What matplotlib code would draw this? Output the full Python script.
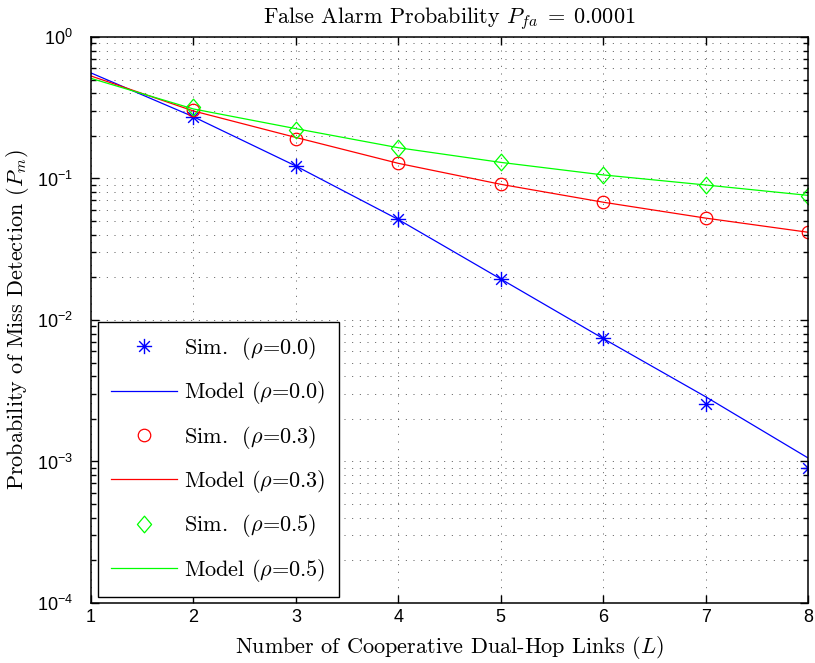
import math
import matplotlib
matplotlib.use("Agg")
from matplotlib import pyplot as plt
from matplotlib.path import Path
from matplotlib.ticker import LogLocator, NullFormatter, FuncFormatter

plt.rcParams['font.family'] = ['Liberation Sans', 'DejaVu Sans']
plt.rcParams['mathtext.fontset'] = 'cm'
plt.rcParams['axes.unicode_minus'] = True

# data
L_model = [1, 2, 3, 4, 5, 6, 7, 8]
L_sim = [2, 3, 4, 5, 6, 7, 8]

sim_00 = [0.272, 0.1225, 0.0517, 0.0195, 0.00746, 0.00255, 0.00090]
model_00 = [0.557, 0.273, 0.1225, 0.0513, 0.0195, 0.0074, 0.00287, 0.00106]

sim_03 = [0.305, 0.191, 0.128, 0.091, 0.068, 0.0523, 0.0417]
model_03 = [0.53, 0.30, 0.195, 0.128, 0.091, 0.068, 0.0525, 0.0417]

sim_05 = [0.322, 0.22, 0.165, 0.130, 0.105, 0.090, 0.075]
model_05 = [0.51, 0.31, 0.225, 0.165, 0.130, 0.106, 0.090, 0.076]

cm = 'cmr10'
fs = 16

# matlab-like markers
star = Path([(0, -1), (0, 1), (-1, 0), (1, 0),
             (-0.7, -0.7), (0.7, 0.7), (-0.7, 0.7), (0.7, -0.7)],
            [Path.MOVETO, Path.LINETO] * 4)
diamond = Path([(0, 1), (0.85, 0), (0, -1), (-0.85, 0), (0, 1)],
               [Path.MOVETO, Path.LINETO, Path.LINETO, Path.LINETO, Path.CLOSEPOLY])

fig = plt.figure(figsize=(8.15, 6.63), dpi=100)
ax = fig.add_axes([0.1117, 0.0905, 0.8797, 0.8537])

blue, red, green = '#0000ff', '#ff0000', '#00ff00'

ax.plot(L_sim, sim_00, linestyle='none', marker=star, ms=11, mew=1.0,
        color=blue, label=r'Sim.  ($\rho$=0.0)')
ax.plot(L_model, model_00, color=blue, lw=0.9, label=r'Model ($\rho$=0.0)')
ax.plot(L_sim, sim_03, linestyle='none', marker='o', ms=9, mew=0.9,
        mfc='none', color=red, label=r'Sim.  ($\rho$=0.3)')
ax.plot(L_model, model_03, color=red, lw=0.9, label=r'Model ($\rho$=0.3)')
ax.plot(L_sim, sim_05, linestyle='none', marker=diamond, ms=12, mew=0.9,
        mfc='none', color=green, label=r'Sim.  ($\rho$=0.5)')
ax.plot(L_model, model_05, color=green, lw=0.9, label=r'Model ($\rho$=0.5)')

ax.set_yscale('log')
ax.set_xlim(1, 8)
ax.set_ylim(1e-4, 1)
ax.set_xticks(range(1, 9))
ax.yaxis.set_major_locator(LogLocator(base=10, numticks=10))
ax.yaxis.set_minor_locator(LogLocator(base=10, subs=range(2, 10), numticks=20))
ax.yaxis.set_minor_formatter(NullFormatter())
ax.yaxis.set_major_formatter(FuncFormatter(
    lambda v, p: r'$\mathdefault{10^{%d}}$' % round(math.log10(v))))

ax.grid(True, which='major', color='0.25', lw=0.6, linestyle=(0, (1.2, 8)))
ax.grid(True, which='minor', axis='y', color='0.25', lw=0.6, linestyle=(0, (1.2, 8)))

ax.tick_params(which='both', direction='in', top=True, right=True, width=1)
ax.tick_params(which='major', length=6, labelsize=13)
ax.tick_params(which='minor', length=3.5)
ax.tick_params(axis='x', pad=4)
ax.tick_params(axis='y', pad=13)
for s in ax.spines.values():
    s.set_linewidth(1.1)

ax.set_title(r'False Alarm Probability $P_{fa}\;=\;0.0001$', family=cm, fontsize=fs, pad=10)
ax.set_xlabel(r'Number of Cooperative Dual-Hop Links ($L$)', family=cm, fontsize=fs, labelpad=6)
ax.set_ylabel(r'Probability of Miss Detection ($P_m$)', family=cm, fontsize=fs, labelpad=4)

leg = ax.legend(loc='lower left', bbox_to_anchor=(0.0098, 0.0106), borderaxespad=0,
                numpoints=1, fancybox=False, framealpha=1, edgecolor='black',
                prop={'family': cm, 'size': fs}, labelspacing=0.78,
                handlelength=2.95, handletextpad=0.32, borderpad=0.6)
leg.get_frame().set_linewidth(1.0)

fig.savefig('out.png', dpi=100)
